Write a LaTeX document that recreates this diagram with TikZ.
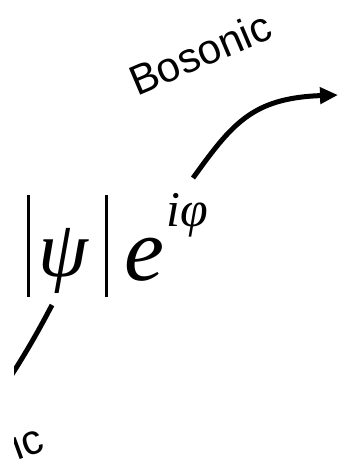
\documentclass[tikz,border=0pt]{standalone}
\usepackage{fontspec}
\setmainfont{Liberation Sans}
\newfontfamily\tms{Liberation Serif}
\usetikzlibrary{arrows.meta}
\begin{document}
\begin{tikzpicture}[x=1pt,y=-1pt,
 lbl/.style={font=\fontsize{42}{46}\selectfont, inner sep=0pt},
 mth/.style={font=\tms\itshape\fontsize{90}{90}\selectfont, inner sep=0pt},
 supx/.style={font=\tms\itshape\fontsize{50}{50}\selectfont, inner sep=0pt},
 bar/.style={line width=3pt},
 flow/.style={line width=5pt}]
\useasboundingbox (0,0) rectangle (347,469);
\begin{scope}
\clip (14,0) rectangle (347,469);
\node[lbl, rotate=23] (bos) at (200,53) {Bosonic};
\node[mth, anchor=base, font=\tms\itshape\fontsize{80}{80}\selectfont] (psi) at (63,276) {ψ};
\draw[bar] (28.5,195) -- (28.5,297);
\draw[bar] (106,195) -- (106,297);
\node[mth, anchor=base west] (e) at (124,280) {e};
\node[supx, anchor=base west] (iphi) at (166,226) {iφ};
\node[lbl, rotate=20] (ic) at (27,441) {ic};
\coordinate (a0) at (193,178);
\coordinate (a1) at (338,95);
\draw[flow, -{Triangle[length=18pt,width=16pt]}] (a0) .. controls (232,124) and (252,98) .. (a1);
\coordinate (f0) at (52,305);
\coordinate (f1) at (5,385);
\draw[flow] (f0) .. controls (40,328) and (25,355) .. (f1);
\end{scope}
\end{tikzpicture}
\end{document}
